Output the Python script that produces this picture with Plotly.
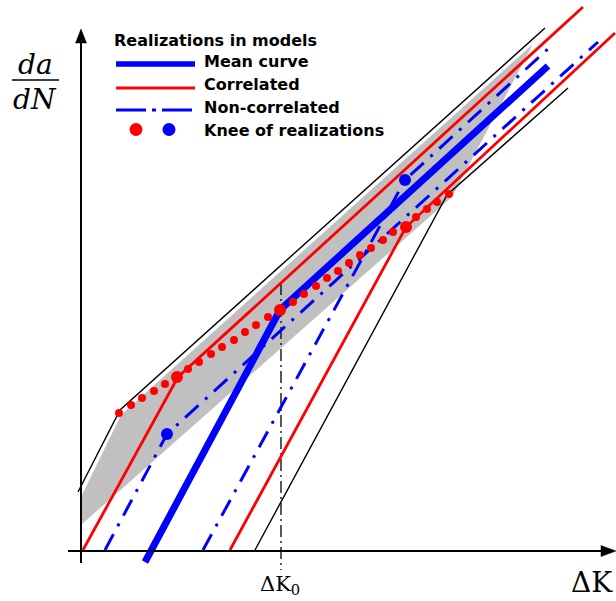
import plotly.graph_objects as go

# ---- schematic data (units: ΔK along x, log da/dN along y; origin at axes corner) ----
gray_band_x = [0.01, 0.01, 0.41, 4.53, 3.72]
gray_band_y = [0.25, 0.53, 1.35, 5.06, 3.53]

black_upper_x = [-0.02, 0.40, 4.65]
black_upper_y = [0.58, 1.40, 5.22]
black_lower_x = [1.75, 3.67, 4.88]
black_lower_y = [0.00, 3.55, 4.62]

red_upper_x = [0.03, 0.98, 5.03]
red_upper_y = [0.00, 1.73, 5.43]
red_lower_x = [1.50, 3.26, 5.35]
red_lower_y = [0.00, 3.23, 5.17]

mean_x = [0.65, 2.00, 4.68]
mean_y = [-0.12, 2.40, 4.84]

noncorr1_x = [0.25, 0.87, 5.18]
noncorr1_y = [0.00, 1.16, 5.08]
noncorr2_x = [1.23, 3.25, 4.70]
noncorr2_y = [0.00, 3.70, 5.03]

blue_knee_x = [0.87, 3.25]
blue_knee_y = [1.16, 3.70]

red_knee_x = [0.97, 2.00, 3.26]
red_knee_y = [1.73, 2.40, 3.23]

red_dots_x = [0.39, 0.51, 0.62, 0.74, 0.85, 1.08, 1.19, 1.31, 1.42, 1.54, 1.65, 1.76, 1.88,
              2.13, 2.24, 2.36, 2.47, 2.58, 2.69, 2.80, 2.91, 3.03, 3.13, 3.36, 3.47, 3.57, 3.69]
red_dots_y = [1.37, 1.45, 1.52, 1.59, 1.66, 1.81, 1.88, 1.96, 2.03, 2.10, 2.18, 2.25, 2.33,
              2.48, 2.56, 2.64, 2.72, 2.79, 2.87, 2.95, 3.02, 3.10, 3.18, 3.33, 3.41, 3.48, 3.56]

dK0_x = [2.01, 2.01]
dK0_y = [2.67, -0.20]

legend_title = "Realizations in models"
legend_labels = ["Mean curve", "Correlated", "Non-correlated", "Knee of realizations"]

RED = "#FF0000"
BLUE = "#0000FF"
DASHDOT = "18px,9px,3px,9px"


def P(px, py):
    """pixel position -> data position (100 px per unit)"""
    return (px - 80) / 100.0, (550 - py) / 100.0


fig = go.Figure()

fig.add_trace(go.Scatter(x=gray_band_x, y=gray_band_y, fill="toself", fillcolor="#C0C0C0",
                         mode="none", hoverinfo="skip"))
for xs, ys in [(black_upper_x, black_upper_y), (black_lower_x, black_lower_y)]:
    fig.add_trace(go.Scatter(x=xs, y=ys, mode="lines", line=dict(color="black", width=1.4)))
fig.add_trace(go.Scatter(x=dK0_x, y=dK0_y, mode="lines",
                         line=dict(color="black", width=1.3, dash="12px,4px,2px,4px")))
for xs, ys in [(red_upper_x, red_upper_y), (red_lower_x, red_lower_y)]:
    fig.add_trace(go.Scatter(x=xs, y=ys, mode="lines", line=dict(color=RED, width=2.8)))
for xs, ys in [(noncorr1_x, noncorr1_y), (noncorr2_x, noncorr2_y)]:
    fig.add_trace(go.Scatter(x=xs, y=ys, mode="lines", line=dict(color=BLUE, width=3, dash=DASHDOT)))
fig.add_trace(go.Scatter(x=mean_x, y=mean_y, mode="lines", line=dict(color=BLUE, width=7)))
fig.add_trace(go.Scatter(x=blue_knee_x, y=blue_knee_y, mode="markers",
                         marker=dict(color=BLUE, size=12, line=dict(width=0))))
fig.add_trace(go.Scatter(x=red_dots_x, y=red_dots_y, mode="markers",
                         marker=dict(color=RED, size=8, line=dict(width=0))))
fig.add_trace(go.Scatter(x=red_knee_x, y=red_knee_y, mode="markers",
                         marker=dict(color=RED, size=12, line=dict(width=0))))

shapes = []
# axes
x0, y0 = P(81, 563); x1, y1 = P(81, 40)
shapes.append(dict(type="line", x0=x0, y0=y0, x1=x1, y1=y1, line=dict(color="black", width=2)))
x0, y0 = P(68, 551); x1, y1 = P(605, 551)
shapes.append(dict(type="line", x0=x0, y0=y0, x1=x1, y1=y1, line=dict(color="black", width=2)))
# arrowheads
a, b = P(81, 29); c, d = P(75.5, 43); e, f = P(86.5, 43)
shapes.append(dict(type="path", path=f"M{a},{b} L{c},{d} L{e},{f} Z", fillcolor="black",
                   line=dict(color="black", width=0.5)))
a, b = P(616, 551); c, d = P(601, 545.5); e, f = P(601, 556.5)
shapes.append(dict(type="path", path=f"M{a},{b} L{c},{d} L{e},{f} Z", fillcolor="black",
                   line=dict(color="black", width=0.5)))
# fraction bar
x0, y0 = P(12, 80); x1, y1 = P(59, 80)
shapes.append(dict(type="line", x0=x0, y0=y0, x1=x1, y1=y1, line=dict(color="black", width=1.6)))
# legend samples
x0, y0 = P(116, 64); x1, _ = P(195, 64)
shapes.append(dict(type="line", x0=x0, y0=y0, x1=x1, y1=y0, line=dict(color=BLUE, width=5.5)))
x0, y0 = P(116, 88); x1, _ = P(195, 88)
shapes.append(dict(type="line", x0=x0, y0=y0, x1=x1, y1=y0, line=dict(color=RED, width=3)))
x0, y0 = P(116, 110); x1, _ = P(195, 110)
shapes.append(dict(type="line", x0=x0, y0=y0, x1=x1, y1=y0,
                   line=dict(color=BLUE, width=3, dash="30px,6px,4px,6px")))
for cx, col in [(136, RED), (169, BLUE)]:
    x0, y0 = P(cx - 6.5, 123); x1, y1 = P(cx + 6.5, 136)
    shapes.append(dict(type="circle", x0=x0, y0=y0, x1=x1, y1=y1, fillcolor=col, line=dict(width=0)))

annotations = []
lfont = dict(family="DejaVu Sans", size=16, color="black", weight="bold")
x, y = P(112, 40)
annotations.append(dict(x=x, y=y, text=legend_title, xanchor="left", yanchor="middle",
                        showarrow=False, font=lfont))
for lab, py in zip(legend_labels, [61, 84, 107, 130]):
    x, y = P(202, py)
    annotations.append(dict(x=x, y=y, text=lab, xanchor="left", yanchor="middle",
                            showarrow=False, font=lfont))
sfont = dict(family="DejaVu Serif", size=28, color="black")
x, y = P(35, 64)
annotations.append(dict(x=x, y=y, text="<i>da</i>", xanchor="center", yanchor="middle",
                        showarrow=False, font=sfont))
x, y = P(35, 99)
annotations.append(dict(x=x, y=y, text="<i>dN</i>", xanchor="center", yanchor="middle",
                        showarrow=False, font=sfont))
x, y = P(280, 585)
annotations.append(dict(x=x, y=y, text="ΔK<sub>0</sub>", xanchor="center", yanchor="middle",
                        showarrow=False, font=dict(family="DejaVu Serif", size=21, color="black")))
x, y = P(615, 582)
annotations.append(dict(x=x, y=y, text="ΔK", xanchor="right", yanchor="middle",
                        showarrow=False, font=dict(family="DejaVu Serif", size=28, color="black")))

fig.update_layout(
    width=616, height=601,
    margin=dict(l=0, r=0, t=0, b=0),
    paper_bgcolor="white", plot_bgcolor="white",
    showlegend=False,
    xaxis=dict(range=[-0.80, 5.36], visible=False, fixedrange=True),
    yaxis=dict(range=[-0.51, 5.50], visible=False, fixedrange=True),
    shapes=shapes, annotations=annotations,
)

fig.write_html("out.html")
